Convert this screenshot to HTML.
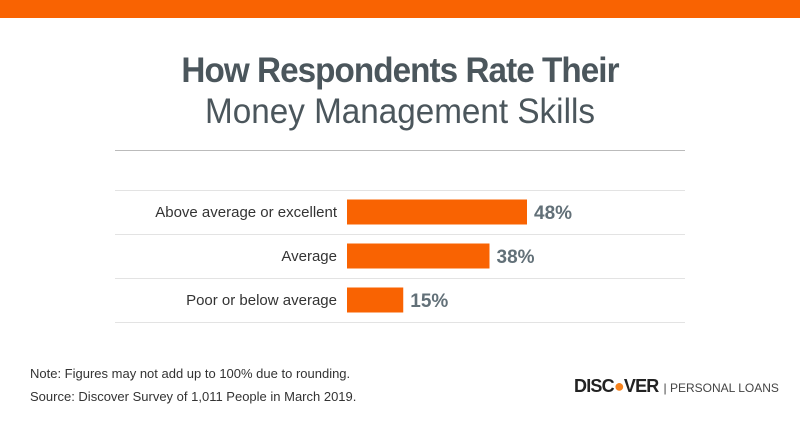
<!DOCTYPE html>
<html><head><meta charset="utf-8"><style>
body{margin:0;width:800px;height:426px;background:#fff;font-family:"Liberation Sans",sans-serif;overflow:hidden;position:relative}
.t{position:absolute;left:0;width:800px;text-align:center;color:#4b565c}
</style></head><body>
<div style="position:absolute;left:0;top:0;width:800px;height:18px;background:#f96302"></div>
<div class="t" style="top:51px;font-size:35px;font-weight:bold;letter-spacing:-1px;transform:scaleX(0.95)">How Respondents Rate Their</div>
<div class="t" style="top:92px;font-size:35px;letter-spacing:0px;transform:scaleX(0.95)">Money Management Skills</div>
<div style="position:absolute;left:115px;top:150px;width:570px;height:1px;background:#bbb"></div>
<svg id="chart" width="800" height="426" style="position:absolute;left:0;top:0"></svg>
<div style="position:absolute;left:30px;top:366px;font-size:13px;color:#333">Note: Figures may not add up to 100% due to rounding.</div>
<div style="position:absolute;left:30px;top:389px;font-size:13px;color:#333">Source: Discover Survey of 1,011 People in March 2019.</div>
<div style="position:absolute;left:574px;top:376px;white-space:nowrap;font-size:18px;font-weight:bold;color:#222;letter-spacing:-0.8px">DISC<span style="color:#f7821b">●</span>VER<span style="font-weight:normal;font-size:12px;color:#444;letter-spacing:0;margin-left:5px">| PERSONAL LOANS</span></div>
<script>
const categories=["Above average or excellent","Average","Poor or below average"];
const values=[48,38,15];
const valueLabels=["48%","38%","15%"];
const svg=document.getElementById('chart');const NS='http://www.w3.org/2000/svg';
const x0=347,pxPer=3.75,rowTop=190,rowH=44;
function x(v){return x0+v*pxPer;}
function mk(t,a){const e=document.createElementNS(NS,t);for(const k in a)e.setAttribute(k,a[k]);svg.appendChild(e);return e;}
for(let i=0;i<=categories.length;i++){
const l=mk('rect',{x:115,y:rowTop+i*rowH,width:570,height:1,fill:'#e3e3e3'});

}
categories.forEach((c,i)=>{
const yc=rowTop+i*rowH+22;
const b=mk('rect',{x:x0,y:yc-12.5,width:x(values[i])-x0,height:25,fill:'#f96302'});


const t=mk('text',{x:337,y:yc+5,'text-anchor':'end','font-size':'15','fill':'#333','font-family':'Liberation Sans'});t.textContent=c;


const v=mk('text',{x:x(values[i])+7,y:yc+7,'font-size':'19','font-weight':'bold','fill':'#627078','font-family':'Liberation Sans'});v.textContent=valueLabels[i];


});
</script>
</body></html>
